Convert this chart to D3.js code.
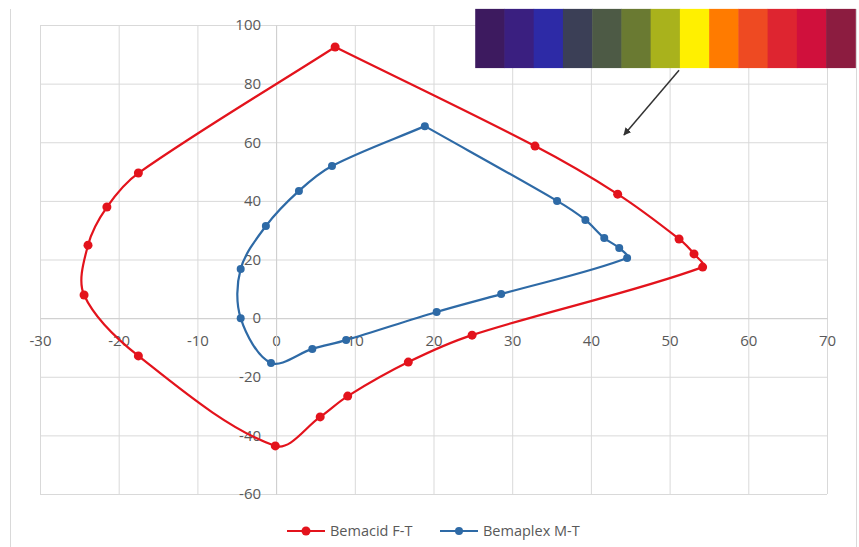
<!DOCTYPE html>
<html>
<head>
<meta charset="utf-8">
<script src="https://cdnjs.cloudflare.com/ajax/libs/d3/7.8.5/d3.min.js"></script>
<style>
body{margin:0;background:#fff;}
text{font-family:"Open Sans",sans-serif;fill:#595959;}
</style>
</head>
<body>
<script>
var width = 859;
var height = 547;

// Bemacid F-T, clockwise from the top point, closed back on itself
var redX = [7.5, 32.9, 43.4, 51.2, 53.1, 54.2, 24.9, 16.8, 9.1, 5.6, -0.1, -17.5, -24.4, -23.9, -21.5, -17.5, 7.5];
var redY = [92.5, 58.7, 42.3, 27.0, 21.9, 17.4, -5.8, -15.0, -26.6, -33.7, -43.6, -12.9, 7.9, 24.9, 37.9, 49.5, 92.5];
// Bemaplex M-T
var blueX = [18.9, 35.7, 39.3, 41.7, 43.6, 44.6, 28.6, 20.4, 8.9, 4.6, -0.65, -4.5, -4.5, -1.3, 2.9, 7.1, 18.9];
var blueY = [65.5, 40.0, 33.5, 27.3, 23.9, 20.5, 8.2, 2.1, -7.5, -10.5, -15.3, 0, 16.8, 31.4, 43.4, 51.9, 65.5];

var seriesNames = ['Bemacid F-T', 'Bemaplex M-T'];
var seriesColors = ['#e3131c', '#2e6aa6'];

var xTicks = [-30, -20, -10, 0, 10, 20, 30, 40, 50, 60, 70];
var yTicks = [-60, -40, -20, 0, 20, 40, 60, 80, 100];

var barColors = ['#3d1a5f', '#3a1f80', '#2d2aa6', '#3b3f56', '#4d5a45', '#6a7a32', '#a9b21c',
                 '#fff000', '#ff7b00', '#ee4a22', '#de2530', '#d0103c', '#8c1c40'];

// smoothing close to Excel's: handle length follows the neighbouring segment lengths, so no overshoot at tips
function SmoothCurve(context){ this._context = context; }
SmoothCurve.prototype = {
    areaStart: function(){}, areaEnd: function(){},
    lineStart: function(){ this._p = []; },
    point: function(x, y){ this._p.push([+x, +y]); },
    lineEnd: function(){
        var p = this._p, n = p.length, c = this._context;
        if (!n) return;
        c.moveTo(p[0][0], p[0][1]);
        var dist = (a, b) => Math.hypot(b[0] - a[0], b[1] - a[1]);
        for (var i = 0; i < n - 1; i++) {
            var p0 = p[Math.max(i - 1, 0)], p1 = p[i], p2 = p[i + 1], p3 = p[Math.min(i + 2, n - 1)];
            var d01 = dist(p0, p1), d12 = dist(p1, p2), d23 = dist(p2, p3);
            var f1 = d12 / (d01 + d12 || 1) / 3, f2 = d12 / (d12 + d23 || 1) / 3;
            c.bezierCurveTo(p1[0] + (p2[0] - p0[0]) * f1, p1[1] + (p2[1] - p0[1]) * f1,
                            p2[0] - (p3[0] - p1[0]) * f2, p2[1] - (p3[1] - p1[1]) * f2,
                            p2[0], p2[1]);
        }
    }
};
var smoothCurve = function(context){ return new SmoothCurve(context); };

var svg = d3.select('body').append('svg')
            .attr('width', width)
            .attr('height', height);

var x = d3.scaleLinear().domain([-30, 70]).range([40, 827]);
var y = d3.scaleLinear().domain([-60, 100]).range([494, 25]);

// chart border (only the sides show)
svg.append('line').attr('x1', 10.5).attr('x2', 10.5).attr('y1', 9).attr('y2', height).attr('stroke', '#d9d9d9');
svg.append('line').attr('x1', 856.5).attr('x2', 856.5).attr('y1', 9).attr('y2', height).attr('stroke', '#d9d9d9');

// gridlines
svg.append('g')
    .attr('transform', 'translate(0,' + y(-60) + ')')
    .call(d3.axisBottom(x).tickValues(xTicks).tickSize(-(y(-60) - y(100))).tickFormat(''))
    .call(g => g.select('.domain').remove())
    .selectAll('line').attr('stroke', '#d9d9d9');
svg.append('g')
    .attr('transform', 'translate(' + x(-30) + ',0)')
    .call(d3.axisLeft(y).tickValues(yTicks).tickSize(-(x(70) - x(-30))).tickFormat(''))
    .call(g => g.select('.domain').remove())
    .selectAll('line').attr('stroke', '#d9d9d9');

// axes cross at zero, plain hyphen for negatives like Excel
var fmt = d => String(d);
var xAxis = svg.append('g')
    .attr('transform', 'translate(0,' + y(0) + ')')
    .call(d3.axisBottom(x).tickValues(xTicks).tickSize(0).tickPadding(17).tickFormat(fmt));
xAxis.select('.domain').attr('stroke', '#cfcfcf');
xAxis.selectAll('text').attr('font-size', 15).style('font-family', '"Open Sans",sans-serif').attr('fill', '#666');

var yAxis = svg.append('g')
    .attr('transform', 'translate(' + x(0) + ',0)')
    .call(d3.axisLeft(y).tickValues(yTicks).tickSize(0).tickPadding(15).tickFormat(fmt));
yAxis.select('.domain').attr('stroke', '#cfcfcf');
yAxis.selectAll('text').attr('font-size', 15).style('font-family', '"Open Sans",sans-serif').attr('fill', '#666');

// series
var series = [
    {name: seriesNames[0], color: seriesColors[0], r: 4.5, pts: d3.zip(redX, redY)},
    {name: seriesNames[1], color: seriesColors[1], r: 4, pts: d3.zip(blueX, blueY)}
];
var line = d3.line()
    .x(d => x(d[0]))
    .y(d => y(d[1]))
    .curve(smoothCurve);

series.forEach(function(s){
    svg.append('path')
        .attr('d', line(s.pts))
        .attr('fill', 'none')
        .attr('stroke', s.color)
        .attr('stroke-width', 2.2);
    svg.append('g').selectAll('circle')
        .data(s.pts.slice(0, -1))
        .enter()
        .append('circle')
        .attr('cx', d => x(d[0]))
        .attr('cy', d => y(d[1]))
        .attr('r', s.r)
        .attr('fill', s.color);
});

// colour strip and arrow
var band = d3.scaleBand().domain(d3.range(barColors.length)).range([x(25.3), x(73.6)]);
svg.append('g').selectAll('rect')
    .data(barColors)
    .enter()
    .append('rect')
    .attr('x', (d, i) => band(i))
    .attr('y', y(105.5))
    .attr('width', band.bandwidth() + 0.5)
    .attr('height', y(85.3) - y(105.5))
    .attr('fill', d => d);

svg.append('defs').append('marker')
    .attr('id', 'head')
    .attr('viewBox', '0 0 10 10')
    .attr('refX', 9).attr('refY', 5)
    .attr('markerWidth', 5).attr('markerHeight', 5)
    .attr('orient', 'auto')
    .append('path').attr('d', 'M0,0L10,5L0,10z').attr('fill', '#333');
svg.append('line')
    .attr('x1', x(51.2)).attr('y1', y(84.6))
    .attr('x2', x(44.2)).attr('y2', y(62.5))
    .attr('stroke', '#333')
    .attr('stroke-width', 1.5)
    .attr('marker-end', 'url(#head)');

// legend
var legend = svg.append('g').attr('transform', 'translate(287,531)');
series.forEach(function(s, i){
    var g = legend.append('g').attr('transform', 'translate(' + (i * 153) + ',0)');
    g.append('line').attr('x1', 0).attr('x2', 38).attr('stroke', s.color).attr('stroke-width', 2.2);
    g.append('circle').attr('cx', 19).attr('r', s.r).attr('fill', s.color);
    g.append('text').attr('x', 43).attr('dy', '0.35em').attr('font-size', 14.5).text(s.name);
});
</script>
</body>
</html>
